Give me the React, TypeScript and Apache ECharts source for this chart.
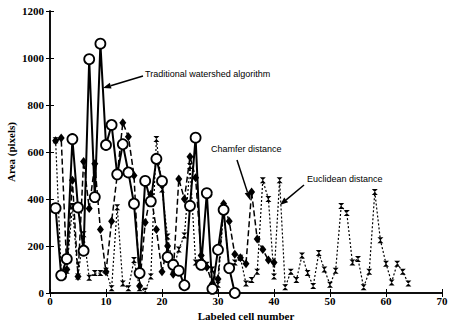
import React, { useEffect, useRef } from "react";
import * as echarts from "echarts";

const cells = Array.from({ length: 64 }, (_, i) => i + 1);

const traditional: (number | null)[] = [
  361, 75, 145, 655, 364, 180, 995, 408, 1061, 630, 715, 505, 633, 513, 380, 85,
  477, 390, 571, 476, 153, 120, 95, 33, 371, 661, 120, 425, 18, 184, 354, 106, 0,
];

const chamfer: (number | null)[] = [
  648, 660, 100, 480, 70, 560, 360, 550, 270, 90, 305, 500, 725, 665, 500, 30,
  300, 420, 270, 90, 200, 80, 485, 400, 580, 490, 160, 110, 40, 60, 380, 305,
  165, 150, 125, 430, 230, 185, 140, 130,
];

const euclidean: (number | null)[] = [
  650, 85, 95, 370, 70, 250, 65, 85, 85, 95, 20, 365, 40, 20, 140, 20,
  10, 70, 655, 440, 240, 100, 185, 245, 540, 130, 150, 120, 100, 35, 350, 110,
  130, 150, 40, 55, 90, 480, 400, 70, 480, 25, 90, 55, 160, 85, 30, 170,
  100, 35, 95, 370, 340, 130, 145, 25, 90, 430, 225, 125, 45, 125, 90, 40,
];

const toPairs = (arr: (number | null)[]) => arr.map((v, i) => [cells[i], v]);

const serif = "Liberation Serif";
const sans = "Liberation Sans";

function arrow(x1: number, y1: number, x2: number, y2: number) {
  const ang = Math.atan2(y2 - y1, x2 - x1);
  const L = 8, W = 3;
  const bx = x2 - L * Math.cos(ang), by = y2 - L * Math.sin(ang);
  const px = -Math.sin(ang) * W, py = Math.cos(ang) * W;
  return [
    { type: "line", shape: { x1, y1, x2: bx, y2: by }, style: { stroke: "#000", lineWidth: 1.5 } },
    {
      type: "polygon",
      shape: { points: [[x2, y2], [bx + px, by + py], [bx - px, by - py]] },
      style: { fill: "#000" },
    },
  ];
}

export default function App() {
  const ref = useRef<HTMLDivElement>(null);
  useEffect(() => {
    const chart = echarts.init(ref.current!, null, { renderer: "svg" });
    const axisLabel = {
      fontFamily: serif, fontWeight: "bold", fontSize: 11, color: "#000",
      formatter: (v: number) => String(v),
    };
    chart.setOption({
      animation: false,
      backgroundColor: "#fff",
      grid: { left: 50, right: 9, top: 11, bottom: 30, outerBoundsMode: "none", containLabel: false },
      xAxis: [
        {
          type: "value", min: 0, max: 70, interval: 10,
          name: "Labeled cell number", nameLocation: "middle", nameGap: 17, nameMoveOverlap: false,
          nameTextStyle: { fontFamily: serif, fontWeight: "bold", fontSize: 11, color: "#000" },
          axisLine: { onZero: false, lineStyle: { color: "#000", width: 1.5 } },
          axisTick: { inside: true, length: 4, lineStyle: { color: "#000" } },
          axisLabel: { ...axisLabel, margin: 2 },
          splitLine: { show: false },
        },
        {
          type: "value", min: 0, max: 70, interval: 10, position: "top",
          axisLine: { lineStyle: { color: "#000", width: 1.5 } },
          axisTick: { inside: true, length: 4, lineStyle: { color: "#000" } },
          axisLabel: { show: false },
          splitLine: { show: false },
        },
      ],
      yAxis: [
        {
          type: "value", min: 0, max: 1200, interval: 200,
          name: "Area (pixels)", nameLocation: "middle", nameGap: 34, nameMoveOverlap: false,
          nameTextStyle: { fontFamily: serif, fontWeight: "bold", fontSize: 11, color: "#000" },
          axisLine: { show: true, lineStyle: { color: "#000", width: 1.5 } },
          axisTick: { show: true, inside: true, length: 4, lineStyle: { color: "#000" } },
          axisLabel: { ...axisLabel, margin: 6 },
          splitLine: { show: false },
        },
        {
          type: "value", min: 0, max: 1200, interval: 200, position: "right",
          axisLine: { show: true, lineStyle: { color: "#000", width: 1.5 } },
          axisTick: { show: true, inside: true, length: 4, lineStyle: { color: "#000" } },
          axisLabel: { show: false },
          splitLine: { show: false },
        },
      ],
      series: [
        {
          name: "Euclidean distance", type: "line", data: toPairs(euclidean),
          symbol: "path://M0,0 L10,0 L0,10 L10,10 Z", symbolSize: 6,
          itemStyle: { color: "#000" },
          lineStyle: { color: "#000", width: 1.2, type: [2, 2] },
        },
        {
          name: "Chamfer distance", type: "line", data: toPairs(chamfer),
          symbol: "diamond", symbolSize: [7, 9],
          itemStyle: { color: "#000" },
          lineStyle: { color: "#000", width: 1.5, type: [6, 3] },
        },
        {
          name: "Traditional watershed algorithm", type: "line", data: toPairs(traditional),
          symbol: "circle", symbolSize: 10,
          itemStyle: { color: "#fff", borderColor: "#000", borderWidth: 1.8 },
          lineStyle: { color: "#000", width: 2 },
        },
      ],
      graphic: [
        {
          type: "text", left: 145, top: 69,
          style: { text: "Traditional watershed algorithm", fontFamily: sans, fontSize: 9, fill: "#000" },
        },
        ...arrow(143, 76, 103, 88),
        {
          type: "text", left: 211, top: 144,
          style: { text: "Chamfer distance", fontFamily: sans, fontSize: 9, fill: "#000" },
        },
        ...arrow(237, 160, 250, 200),
        {
          type: "text", left: 307, top: 174,
          style: { text: "Euclidean distance", fontFamily: sans, fontSize: 9, fill: "#000" },
        },
        ...arrow(304, 185, 280, 205),
      ],
    });
    return () => chart.dispose();
  }, []);
  return (
    <div
      ref={ref}
      style={{ position: "fixed", left: 0, top: 0, width: 451, height: 323, background: "#fff" }}
    />
  );
}
